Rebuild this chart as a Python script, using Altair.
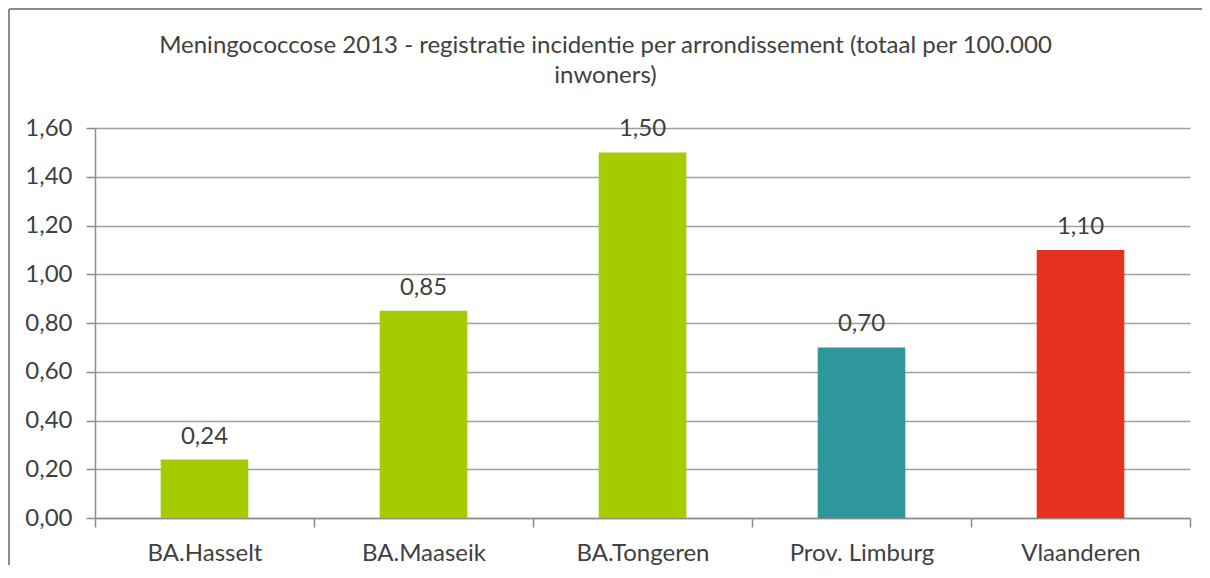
import altair as alt
import pandas as pd

categories = ["BA.Hasselt", "BA.Maaseik", "BA.Tongeren", "Prov. Limburg", "Vlaanderen"]
values = [0.24, 0.85, 1.50, 0.70, 1.10]
colors = ["#A5CC00", "#A5CC00", "#A5CC00", "#2D979B", "#E4321F"]
y_ticks = [0.0, 0.2, 0.4, 0.6, 0.8, 1.0, 1.2, 1.4, 1.6]
title_lines = ["Meningococcose 2013 - registratie incidentie per arrondissement (totaal per 100.000",
               "inwoners)"]

df = pd.DataFrame({"cat": categories, "v": values, "col": colors})

W, H = 1095, 390
FONT = "Lato"
TXT = "#404040"
FS = 24
BORDER = "#8c8c8c"
PAD_R = 12

x = alt.X("cat:N", sort=categories, title=None,
          scale=alt.Scale(paddingInner=0, paddingOuter=0),
          axis=alt.Axis(tickBand="extent", labelAngle=0, labelFont=FONT, labelFontSize=FS,
                        labelColor=TXT, labelPadding=14, tickSize=9, tickColor="#8c8c8c",
                        tickWidth=1.5, domainColor="#8c8c8c", domainWidth=1.5, grid=False))
y = alt.Y("v:Q", title=None,
          scale=alt.Scale(domain=[0, 1.6], nice=False),
          axis=alt.Axis(values=y_ticks, labelExpr="replace(format(datum.value, '.2f'), '.', ',')",
                        labelFont=FONT, labelFontSize=FS, labelColor=TXT, labelPadding=14,
                        tickSize=9, tickColor="#8c8c8c", tickWidth=1.5,
                        domainColor="#8c8c8c", domainWidth=1.5,
                        grid=True, gridColor="#a0a0a0", gridWidth=1.5))

base = alt.Chart(df)

bars = base.mark_bar(width=alt.RelativeBandSize(0.4)).encode(
    x=x, y=y, color=alt.Color("col:N", scale=None)
)

labels = base.transform_calculate(
    lbl="replace(format(datum.v, '.2f'), '.', ',')"
).mark_text(font=FONT, fontSize=FS, color=TXT, baseline="bottom", dy=-11).encode(
    x=alt.X("cat:N", sort=categories), y="v:Q", text="lbl:N"
)

one = pd.DataFrame({"a": [0]})
frame_top = alt.Chart(one).mark_rule(stroke=BORDER, strokeWidth=2).encode(
    x=alt.value(-86), x2=alt.value(W + PAD_R), y=alt.value(-119)
)
frame_left = alt.Chart(one).mark_rule(stroke=BORDER, strokeWidth=2).encode(
    x=alt.value(-86), y=alt.value(-119), y2=alt.value(H + 47)
)

chart = alt.layer(frame_top, frame_left, bars, labels).properties(
    width=W, height=H,
    title=alt.TitleParams(title_lines, font=FONT, fontSize=FS, fontWeight="normal",
                          color=TXT, anchor="middle", dx=-37, offset=-80, lineHeight=30),
    autosize=alt.AutoSizeParams(type="none"),
    padding={"left": 87, "top": 120, "right": PAD_R, "bottom": 47},
).configure_view(stroke=None)

chart.save("out.html", embed_options={"renderer": "svg", "actions": False})
